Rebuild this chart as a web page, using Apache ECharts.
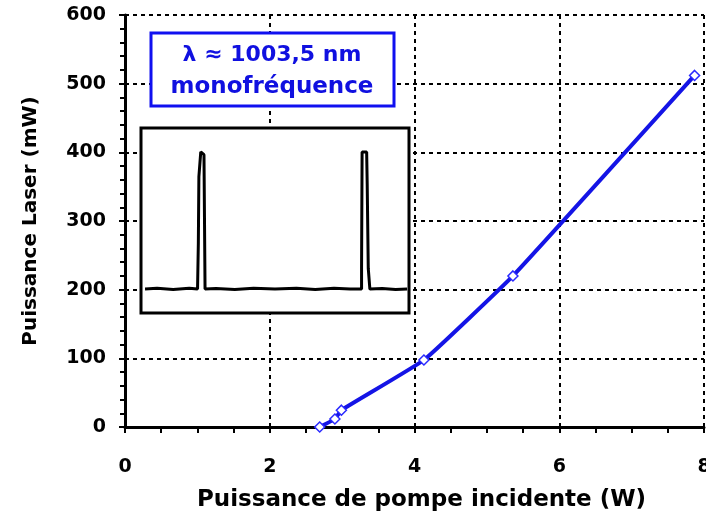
<!DOCTYPE html>
<html><head><meta charset="utf-8">
<script src="https://cdn.jsdelivr.net/npm/echarts@6/dist/echarts.min.js"></script>
<style>html,body{margin:0;padding:0;background:#fff}#c{width:706px;height:517px}</style>
</head><body><div id="c"></div>
<script>
// Main data: pump power (W) vs laser power (mW)
const pumpW = [2.69, 2.90, 2.99, 4.13, 5.36, 7.87];
const laserMW = [0, 11.6, 24.5, 97.5, 220, 512];
const xTicks = [0, 2, 4, 6, 8];
const yTicks = [0, 100, 200, 300, 400, 500, 600];
// Inset spectrum (arbitrary units)
const specX = [1.5, 6, 12, 18, 21.1, 21.4, 21.6, 22.3, 23.5, 23.9, 28, 35, 42, 50, 58, 65, 72, 78, 82.3, 82.3, 82.5, 84.2, 84.4, 84.8, 85.4, 90, 95, 99.3];
const specY = [0, 0.005, -0.004, 0.006, 0, 0.34, 0.82, 1.0, 0.98, 0, 0.004, -0.004, 0.005, 0, 0.006, -0.003, 0.005, 0, 0, 0.15, 1.0, 1.0, 0.77, 0.15, 0, 0.004, -0.004, 0];
const boxLine1 = 'λ ≈ 1003,5 nm';
const boxLine2 = 'monofréquence';

const FONT = 'DejaVu Sans';
const chart = echarts.init(document.getElementById('c'), null, {renderer: 'canvas'});
const dash = {type: [4, 4], color: '#000', width: 2};
const mainX = {min: 0, max: 8, interval: 2};
const mainY = {min: 0, max: 600, interval: 100};
chart.setOption({
  animation: false,
  backgroundColor: '#fff',
  grid: [
    {left: 125, top: 15, right: 2, bottom: 90, outerBoundsMode: 'none', containLabel: false},
    {left: 141, top: 128, width: 268, height: 185, show: true, backgroundColor: '#fff', borderColor: '#000', borderWidth: 3, z: 5, outerBoundsMode: 'none', containLabel: false}
  ],
  xAxis: [
    Object.assign({type: 'value', gridIndex: 0,
      axisLine: {onZero: false, lineStyle: {color: '#000', width: 3}},
      axisTick: {show: true, length: 5, lineStyle: {color: '#000', width: 2}},
      axisLabel: {color: '#000', fontFamily: FONT, fontWeight: 'bold', fontSize: 19, margin: 31,
        formatter: v => xTicks.includes(v) ? String(v) : ''},
      splitLine: {show: true, lineStyle: dash},
      name: 'Puissance de pompe incidente (W)', nameLocation: 'middle', nameGap: 62,
      nameTextStyle: {color: '#000', fontFamily: FONT, fontWeight: 'bold', fontSize: 23, padding: [0, 0, 0, 14]}
    }, mainX),
    Object.assign({type: 'value', gridIndex: 0,
      axisLine: {show: false},
      axisTick: {show: true, inside: true, length: 6, lineStyle: {color: '#000', width: 2}},
      minorTick: {show: true, splitNumber: 4, length: 6, lineStyle: {color: '#000', width: 2}},
      axisLabel: {show: false}, splitLine: {show: false}
    }, mainX),
    {type: 'value', gridIndex: 1, min: 0, max: 100, show: false}
  ],
  yAxis: [
    Object.assign({type: 'value', gridIndex: 0,
      axisLine: {show: true, onZero: false, lineStyle: {color: '#000', width: 3}},
      axisTick: {show: true, length: 6, lineStyle: {color: '#000', width: 2}},
      axisLabel: {color: '#000', fontFamily: FONT, fontWeight: 'bold', fontSize: 19, margin: 19,
        formatter: v => yTicks.includes(v) ? String(v) : ''},
      splitLine: {show: true, lineStyle: dash},
      name: 'Puissance Laser (mW)', nameLocation: 'middle', nameGap: 84, nameRotate: 90,
      nameTextStyle: {color: '#000', fontFamily: FONT, fontWeight: 'bold', fontSize: 20}
    }, mainY),
    Object.assign({type: 'value', gridIndex: 0,
      axisLine: {show: false},
      axisTick: {show: true, inside: true, length: 5, lineStyle: {color: '#000', width: 2}},
      minorTick: {show: true, splitNumber: 5, length: 5, lineStyle: {color: '#000', width: 2}},
      axisLabel: {show: false}, splitLine: {show: false}
    }, mainY),
    {type: 'value', gridIndex: 1, min: -0.175, max: 1.175, show: false}
  ],
  series: [
    {type: 'line', xAxisIndex: 0, yAxisIndex: 0, z: 3,
      data: pumpW.map((x, i) => [x, laserMW[i]]),
      smooth: 0.1,
      lineStyle: {color: '#1414e6', width: 4},
      symbol: 'diamond', symbolSize: 10,
      itemStyle: {color: '#fff', borderColor: '#2a2aff', borderWidth: 1.5}
    },
    {type: 'line', xAxisIndex: 2, yAxisIndex: 2, z: 6,
      data: specX.map((x, i) => [x, specY[i]]),
      showSymbol: false, symbol: 'none',
      lineStyle: {color: '#000', width: 3}
    }
  ],
  graphic: [
    {type: 'rect', z: 10, shape: {x: 151, y: 33, width: 243, height: 73},
      style: {fill: '#fff', stroke: '#1010f0', lineWidth: 3}},
    {type: 'text', z: 11, x: 272, y: 55,
      style: {text: boxLine1, fill: '#1010e0', font: 'bold 22px "DejaVu Sans"', textAlign: 'center', textVerticalAlign: 'middle'}},
    {type: 'text', z: 11, x: 272, y: 87,
      style: {text: boxLine2, fill: '#1010e0', font: 'bold 23px "DejaVu Sans"', textAlign: 'center', textVerticalAlign: 'middle'}}
  ]
});
</script></body></html>
